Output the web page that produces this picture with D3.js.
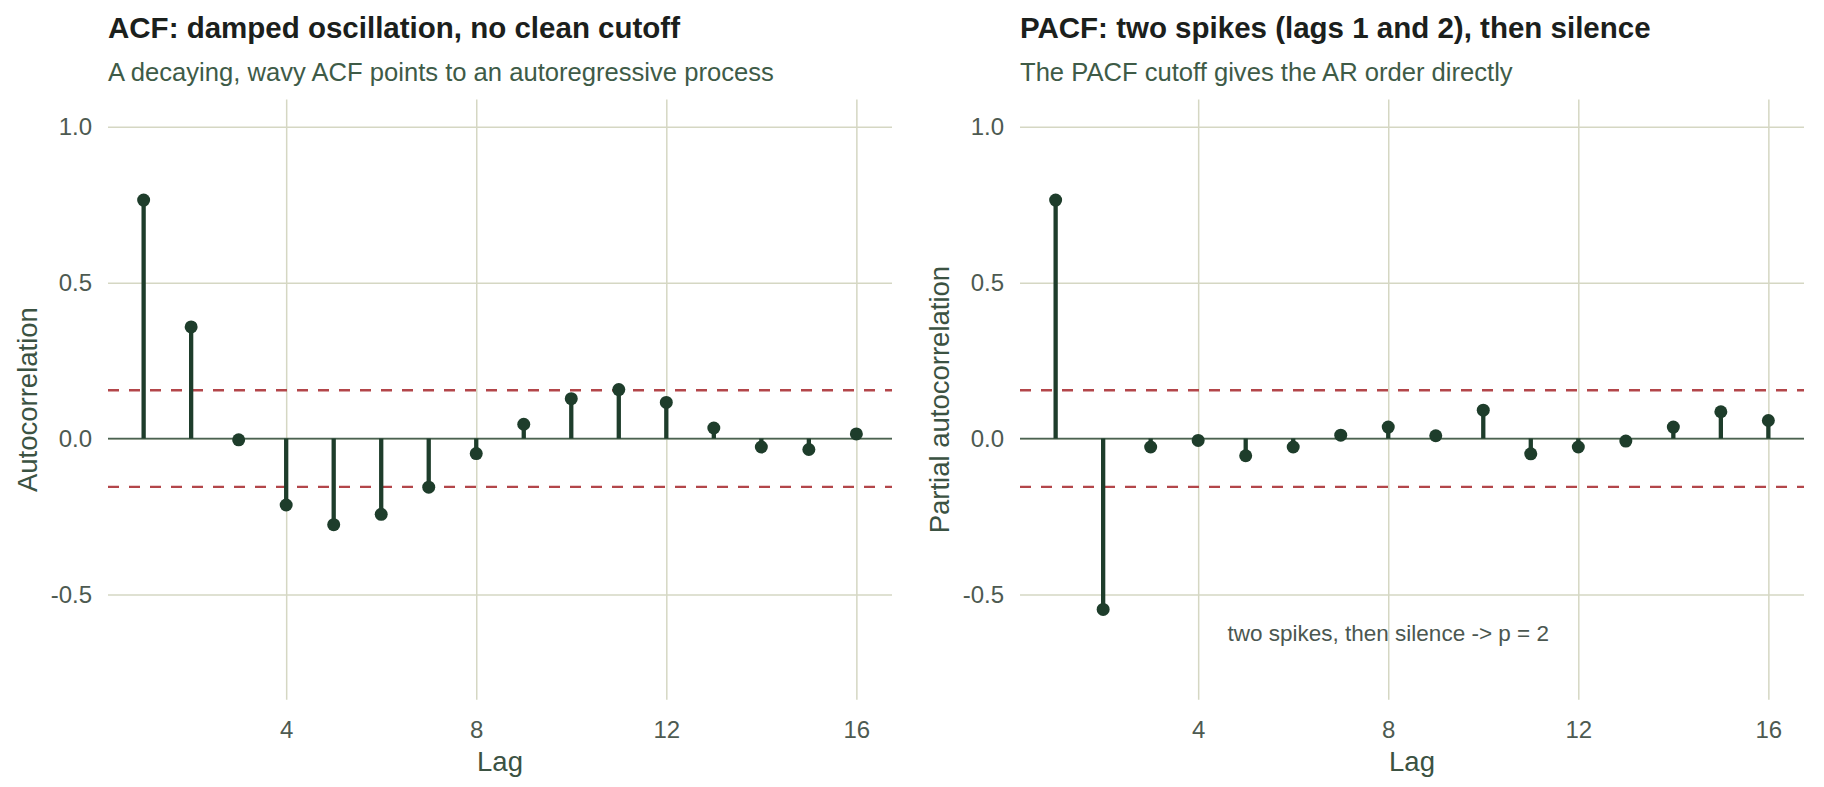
<!DOCTYPE html>
<html>
<head>
<meta charset="utf-8">
<script src="https://cdn.jsdelivr.net/npm/d3@7"></script>
<style>
  html, body { margin: 0; padding: 0; background: #ffffff; }
  svg { display: block; font-family: "Liberation Sans", Arial, Helvetica, sans-serif; }
</style>
</head>
<body>
<svg id="chart" width="1824" height="787"></svg>
<script>
// ---- data ----
const lags = [1, 2, 3, 4, 5, 6, 7, 8, 9, 10, 11, 12, 13, 14, 15, 16];
const acfValues = [0.765, 0.358, -0.004, -0.213, -0.276, -0.243, -0.156, -0.048, 0.046, 0.128, 0.157, 0.116, 0.034, -0.027, -0.035, 0.015];
const pacfValues = [0.765, -0.548, -0.027, -0.006, -0.055, -0.027, 0.011, 0.037, 0.009, 0.091, -0.049, -0.027, -0.008, 0.037, 0.086, 0.058];
const confBound = 0.155;
const xTicks = [4, 8, 12, 16];
const yTicks = [-0.5, 0.0, 0.5, 1.0];
const panelTitles = ["ACF: damped oscillation, no clean cutoff", "PACF: two spikes (lags 1 and 2), then silence"];
const panelSubtitles = ["A decaying, wavy ACF points to an autoregressive process", "The PACF cutoff gives the AR order directly"];
const yAxisTitles = ["Autocorrelation", "Partial autocorrelation"];
const xAxisTitle = "Lag";
const annotationText = "two spikes, then silence -> p = 2";
const annotationLag = 8;
const annotationValue = -0.625;

// ---- styling ----
const colors = {
  title: "#1b201c",
  subtitle: "#3e5b47",
  tick: "#4d5a51",
  axisTitle: "#3b5242",
  grid: "#d5d7c3",
  stem: "#1e3d2b",
  zero: "#4a6251",
  bound: "#b3464a",
  annot: "#4b5750"
};

const svg = d3.select("#chart");
const fmt = d3.formatLocale({decimal: ".", thousands: ",", grouping: [3], currency: ["", ""], minus: "-"}).format(".1f");

const panelW = 912;
const plotLeft = 108, plotRight = 892, plotTop = 99.5, plotBottom = 699.7;

const panels = [
  {values: acfValues},
  {values: pacfValues, annotate: true}
];

panels.forEach((p, i) => {
  const g = svg.append("g").attr("transform", `translate(${i * panelW},0)`);

  const x = d3.scaleLinear().domain([0.25, 16.75]).range([plotLeft, plotRight]);
  const y = d3.scaleLinear().domain([-0.8375, 1.0875]).range([plotBottom, plotTop]);

  // grid (vertical)
  const gx = g.append("g").attr("transform", `translate(0,${plotBottom})`)
    .call(d3.axisBottom(x).tickValues(xTicks).tickSize(-(plotBottom - plotTop)).tickPadding(21).tickFormat(d3.format("d")));
  gx.select(".domain").remove();
  gx.selectAll(".tick line").attr("stroke", colors.grid).attr("stroke-width", 1.5);
  gx.selectAll(".tick text").attr("fill", colors.tick).style("font-size", "24px");

  // grid (horizontal)
  const gy = g.append("g").attr("transform", `translate(${plotLeft},0)`)
    .call(d3.axisLeft(y).tickValues(yTicks).tickSize(-(plotRight - plotLeft)).tickPadding(16).tickFormat(fmt));
  gy.select(".domain").remove();
  gy.selectAll(".tick line").attr("stroke", colors.grid).attr("stroke-width", 1.5);
  gy.selectAll(".tick text").attr("fill", colors.tick).style("font-size", "24px");

  // confidence bounds
  g.selectAll("line.bound").data([confBound, -confBound]).enter().append("line")
    .attr("class", "bound")
    .attr("x1", plotLeft).attr("x2", plotRight)
    .attr("y1", d => y(d)).attr("y2", d => y(d))
    .attr("stroke", colors.bound).attr("stroke-width", 2.4)
    .attr("stroke-dasharray", "11,10");

  // zero line
  g.append("line")
    .attr("x1", plotLeft).attr("x2", plotRight)
    .attr("y1", y(0)).attr("y2", y(0))
    .attr("stroke", colors.zero).attr("stroke-width", 1.8);

  const data = lags.map((l, k) => ({lag: l, v: p.values[k]}));

  // stems
  g.selectAll("line.stem").data(data).enter().append("line")
    .attr("class", "stem")
    .attr("x1", d => x(d.lag)).attr("x2", d => x(d.lag))
    .attr("y1", y(0)).attr("y2", d => y(d.v))
    .attr("stroke", colors.stem).attr("stroke-width", 4.3);

  // points
  g.selectAll("circle.pt").data(data).enter().append("circle")
    .attr("class", "pt")
    .attr("cx", d => x(d.lag)).attr("cy", d => y(d.v))
    .attr("r", 6.5).attr("fill", colors.stem);

  if (p.annotate) {
    g.append("text")
      .attr("x", x(annotationLag)).attr("y", y(annotationValue))
      .attr("dy", "0.35em")
      .attr("text-anchor", "middle")
      .attr("fill", colors.annot)
      .style("font-size", "22.5px")
      .text(annotationText);
  }

  // titles
  g.append("text").attr("x", plotLeft).attr("y", 37.5)
    .attr("fill", colors.title).style("font-size", "29.5px").style("font-weight", "bold")
    .text(panelTitles[i]);
  g.append("text").attr("x", plotLeft).attr("y", 80.5)
    .attr("fill", colors.subtitle).style("font-size", "25.6px")
    .text(panelSubtitles[i]);

  // axis titles
  g.append("text").attr("x", (plotLeft + plotRight) / 2).attr("y", 771)
    .attr("text-anchor", "middle").attr("fill", colors.axisTitle).style("font-size", "27.5px")
    .text(xAxisTitle);
  g.append("text")
    .attr("transform", `translate(36.5,${(plotTop + plotBottom) / 2}) rotate(-90)`)
    .attr("text-anchor", "middle").attr("fill", colors.axisTitle).style("font-size", "27.5px")
    .text(yAxisTitles[i]);
});
</script>
</body>
</html>
